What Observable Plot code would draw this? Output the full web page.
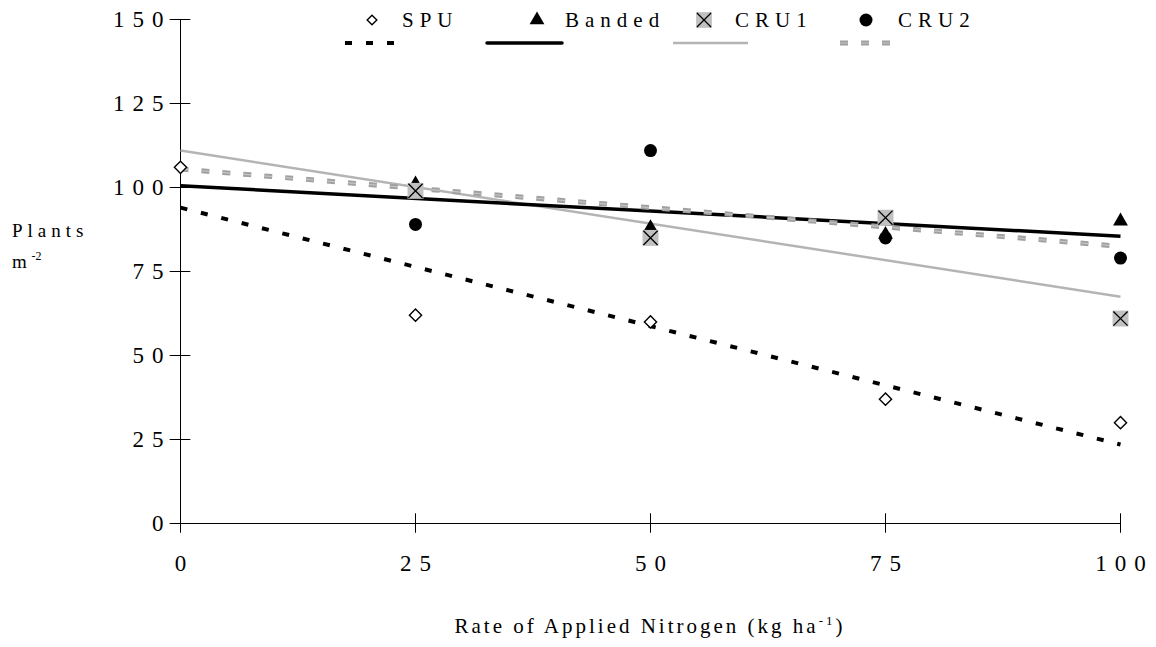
<!DOCTYPE html>
<html><head><meta charset="utf-8">
<script src="https://cdn.jsdelivr.net/npm/d3@7"></script>
<script src="https://cdn.jsdelivr.net/npm/@observablehq/plot@0.6"></script>
<style>
body{margin:0;background:#fff}
#chart{position:relative;width:1156px;height:647px}
svg{font-family:"Liberation Serif","Times New Roman",serif}
</style>
</head><body><div id="chart"></div>
<script>
// ---- data ----
const rates = [0, 25, 50, 75, 100];
const spu = [106, 62, 60, 37, 30];
const banded = [null, 101, 88, 86, 90];
const cru1 = [null, 99, 85, 91, 61];
const cru2 = [null, 89, 111, 85, 79];
const seriesNames = ["SPU", "Banded", "CRU1", "CRU2"];
// fitted trend lines (value at rate 0 and at rate 100)
const trendStart = [94, 100.5, 111, 105.5];
const trendEnd = [23.5, 85.5, 67.5, 82.5];
const yTicks = [0, 25, 50, 75, 100, 125, 150];
const xTicks = [0, 25, 50, 75, 100];

const seriesValues = [spu, banded, cru1, cru2];
const points = [];
seriesNames.forEach((s, i) => rates.forEach((r, j) => {
  const v = seriesValues[i][j];
  if (v != null) points.push({series: s, rate: r, value: v});
}));
const pts = s => points.filter(d => d.series === s);
const trends = seriesNames.map((s, i) => ({series: s, x1: rates[0], x2: rates[rates.length - 1], y1: trendStart[i], y2: trendEnd[i]}));
const tr = s => trends.filter(d => d.series === s);

const chart = Plot.plot({
  width: 1156, height: 647,
  marginLeft: 180, marginRight: 36, marginTop: 19, marginBottom: 124,
  x: {type: "linear", domain: [0, 100], axis: null},
  y: {type: "linear", domain: [0, 150], axis: null},
  marks: [
    // axes
    Plot.ruleX([0], {y1: 0, y2: 150, stroke: "#000", strokeWidth: 1}),
    Plot.ruleY([0], {x1: 0, x2: 100, stroke: "#000", strokeWidth: 1}),
    Plot.ruleY(yTicks, {y: d => d, x1: -1.1, x2: 1.1, stroke: "#000", strokeWidth: 1}),
    Plot.ruleX(xTicks, {x: d => d, y1: -2.9, y2: 2.9, stroke: "#000", strokeWidth: 1}),
    Plot.text(yTicks, {x: 0, y: d => d, text: d => String(d), dx: -9, textAnchor: "end", fontSize: 23, fill: "#000"}),
    Plot.text(xTicks, {x: d => d, y: 0, text: d => String(d), dx: 4, dy: 40, fontSize: 23, fill: "#000"}),
    // trend lines
    Plot.link(tr("CRU1"), {x1: "x1", x2: "x2", y1: "y1", y2: "y2", stroke: "#b4b4b4", strokeWidth: 2.5}),
    Plot.link(tr("Banded"), {x1: "x1", x2: "x2", y1: "y1", y2: "y2", stroke: "#000", strokeWidth: 3.5}),
    Plot.link(tr("CRU2"), {x1: "x1", x2: "x2", y1: "y1", y2: "y2", stroke: "#a0a0a0", strokeWidth: 5, strokeDasharray: "8,13"}),
    Plot.link(tr("CRU2"), {x1: "x1", x2: "x2", y1: "y1", y2: "y2", stroke: "#c4c4c4", strokeWidth: 1.2, strokeDasharray: "8,13"}),
    Plot.link(tr("SPU"), {x1: "x1", x2: "x2", y1: "y1", y2: "y2", stroke: "#000", strokeWidth: 4, strokeDasharray: "7,14"}),
    // points
    Plot.dot(pts("Banded"), {x: "rate", y: "value", symbol: "triangle", r: 5.5, fill: "#000", stroke: "none"}),
    Plot.dot(pts("CRU1"), {x: "rate", y: "value", symbol: "square", r: 9, fill: "#c0c0c0", stroke: "none"}),
    Plot.dot(pts("CRU1"), {x: "rate", y: "value", symbol: "times", r: 6.5, stroke: "#000", strokeWidth: 1.3}),
    Plot.dot(pts("CRU2"), {x: "rate", y: "value", symbol: "circle", r: 6.5, fill: "#000", stroke: "none"}),
    Plot.dot(pts("SPU"), {x: "rate", y: "value", symbol: "diamond2", r: 5.5, fill: "#fff", stroke: "#000", strokeWidth: 1.4})
  ]
});
document.getElementById("chart").appendChild(chart);

const svg = d3.select(chart);
svg.selectAll("text").attr("letter-spacing", "8px");

// axis titles
const xt = svg.append("text").attr("x", 650).attr("y", 633).attr("text-anchor", "middle")
  .attr("font-size", 21).attr("letter-spacing", "3px").attr("fill", "#000");
xt.append("tspan").text("Rate of Applied Nitrogen (kg ha");
xt.append("tspan").attr("font-size", 13).attr("dy", -8).text("-1");
xt.append("tspan").attr("dy", 8).text(")");
svg.append("text").attr("x", 12).attr("y", 237).attr("text-anchor", "start").attr("font-size", 19).attr("letter-spacing", "5px").attr("fill", "#000").text("Plants");
const my = svg.append("text").attr("x", 12).attr("y", 268).attr("text-anchor", "start").attr("font-size", 19).attr("fill", "#000");
my.append("tspan").text("m ");
my.append("tspan").attr("font-size", 12).attr("dy", -8).text("-2");

// legend
const lg = svg.append("g").attr("class", "legend");
const lgItems = [
  {name: "SPU", sx: 372, tx: 402, l1: 345, l2: 400},
  {name: "Banded", sx: 537, tx: 565, l1: 487, l2: 562},
  {name: "CRU1", sx: 704, tx: 735, l1: 673, l2: 748},
  {name: "CRU2", sx: 866, tx: 898, l1: 840, l2: 895}
];
const ly = 20, ll = 43;
lgItems.forEach(it => {
  lg.append("text").attr("x", it.tx).attr("y", ly + 7).attr("text-anchor", "start").attr("font-size", 21).attr("letter-spacing", "6px").attr("fill", "#000").text(it.name);
});
const sym = (type, size) => d3.symbol(type, size)();
lg.append("path").attr("d", sym(d3.symbolDiamond2, 60)).attr("transform", `translate(${lgItems[0].sx},${ly})`).attr("fill", "#fff").attr("stroke", "#000").attr("stroke-width", 1.4);
lg.append("path").attr("d", sym(d3.symbolTriangle, 95)).attr("transform", `translate(${lgItems[1].sx},${ly})`).attr("fill", "#000");
lg.append("path").attr("d", sym(d3.symbolSquare, 250)).attr("transform", `translate(${lgItems[2].sx},${ly})`).attr("fill", "#c0c0c0");
lg.append("path").attr("d", sym(d3.symbolTimes, 130)).attr("transform", `translate(${lgItems[2].sx},${ly})`).attr("fill", "none").attr("stroke", "#000").attr("stroke-width", 1.3);
lg.append("circle").attr("cx", lgItems[3].sx).attr("cy", ly).attr("r", 6.5).attr("fill", "#000");
lg.append("line").attr("x1", lgItems[0].l1).attr("x2", lgItems[0].l2).attr("y1", ll).attr("y2", ll).attr("stroke", "#000").attr("stroke-width", 4).attr("stroke-dasharray", "7,14");
lg.append("line").attr("x1", lgItems[1].l1).attr("x2", lgItems[1].l2).attr("y1", ll).attr("y2", ll).attr("stroke", "#000").attr("stroke-width", 3.5).attr("stroke-linecap", "round");
lg.append("line").attr("x1", lgItems[2].l1).attr("x2", lgItems[2].l2).attr("y1", ll).attr("y2", ll).attr("stroke", "#b4b4b4").attr("stroke-width", 2.5);
lg.append("line").attr("x1", lgItems[3].l1).attr("x2", lgItems[3].l2).attr("y1", ll).attr("y2", ll).attr("stroke", "#a0a0a0").attr("stroke-width", 5).attr("stroke-dasharray", "8,13");
lg.append("line").attr("x1", lgItems[3].l1).attr("x2", lgItems[3].l2).attr("y1", ll).attr("y2", ll).attr("stroke", "#c4c4c4").attr("stroke-width", 1.2).attr("stroke-dasharray", "8,13");
</script></body></html>
